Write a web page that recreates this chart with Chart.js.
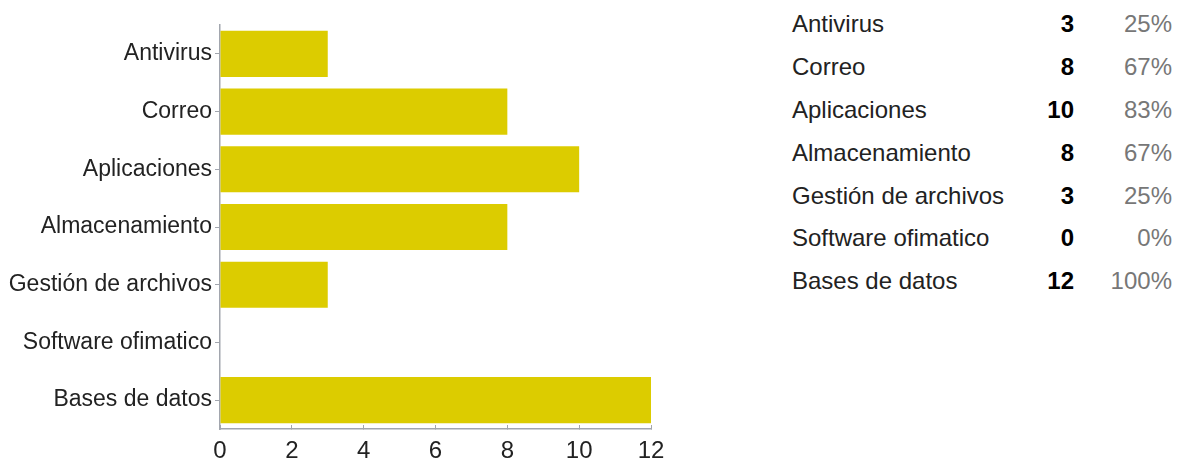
<!DOCTYPE html>
<html>
<head>
<meta charset="utf-8">
<script src="https://cdn.jsdelivr.net/npm/chart.js@4.4.0/dist/chart.umd.min.js"></script>
<style>
  html, body { margin: 0; padding: 0; background: #fff; }
  body { width: 1184px; height: 462px; position: relative; overflow: hidden; font-family: 'Liberation Sans', Arial, sans-serif; }
  #chartBox { position: absolute; left: 0; top: 0; width: 680px; height: 462px; }
  #summary { position: absolute; left: 792px; top: 3px; border-collapse: collapse; font-size: 24px; }
  #summary td { height: 42.8px; padding: 0; white-space: nowrap; }
  #summary td.name { color: #222; width: 240px; }
  #summary td.count { color: #000; font-weight: bold; text-align: right; width: 42px; }
  #summary td.pct { color: #777; text-align: right; width: 98px; }
</style>
</head>
<body>
<div id="chartBox"><canvas id="barChart"></canvas></div>
<table id="summary"></table>
<script>
// datos
const categories = [
  'Antivirus',
  'Correo',
  'Aplicaciones',
  'Almacenamiento',
  'Gestión de archivos',
  'Software ofimatico',
  'Bases de datos',
];
const counts = [3, 8, 10, 8, 3, 0, 12];
const percents = ['25%', '67%', '83%', '67%', '25%', '0%', '100%'];
const xTicks = [0, 2, 4, 6, 8, 10, 12];

const barColor = '#dccc00';
const axisColor = '#a2a6ae';

// tabla de resumen a la derecha
const table = document.getElementById('summary');
categories.forEach((name, i) => {
  const row = document.createElement('tr');
  row.innerHTML =
    '<td class="name"></td><td class="count"></td><td class="pct"></td>';
  row.children[0].textContent = name;
  row.children[1].textContent = counts[i];
  row.children[2].textContent = percents[i];
  table.appendChild(row);
});

const ctx = document.getElementById('barChart').getContext('2d');
new Chart(ctx, {
  type: 'bar',
  data: {
    labels: categories,
    datasets: [
      {
        data: counts,
        backgroundColor: barColor,
        borderWidth: 0,
        categoryPercentage: 1,
        barPercentage: 0.8,
      },
    ],
  },
  options: {
    indexAxis: 'y',
    responsive: true,
    maintainAspectRatio: false,
    animation: false,
    layout: { padding: { top: 25, right: 29, left: 0, bottom: 0 } },
    plugins: {
      legend: { display: false },
      tooltip: { enabled: false },
    },
    scales: {
      x: {
        min: xTicks[0],
        max: xTicks[xTicks.length - 1],
        afterBuildTicks: (scale) => {
          scale.ticks = xTicks.map((v) => ({ value: v }));
        },
        afterFit: (scale) => {
          scale.height = 33;
        },
        border: { color: axisColor, width: 1.5 },
        grid: {
          drawOnChartArea: false,
          tickLength: -4, // marcas hacia dentro
          color: axisColor,
        },
        ticks: {
          color: '#222',
          padding: 12,
          font: { family: "'Liberation Sans', Arial", size: 24 },
        },
      },
      y: {
        afterFit: (scale) => {
          scale.width = 220;
        },
        border: { color: axisColor, width: 1.5 },
        grid: {
          offset: false,
          drawOnChartArea: false,
          tickLength: 5,
          color: axisColor,
        },
        ticks: {
          color: '#222',
          padding: 3,
          font: { family: "'Liberation Sans', Arial", size: 23 },
        },
      },
    },
  },
});
</script>
</body>
</html>
